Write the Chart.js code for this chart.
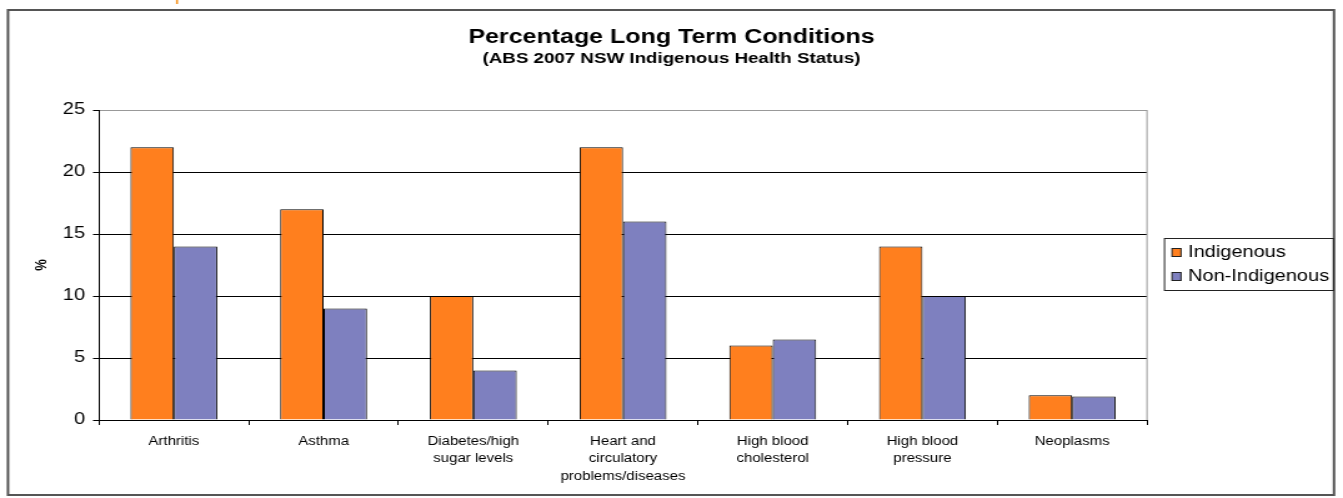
<!DOCTYPE html>
<html>
<head>
<meta charset="utf-8">
<script src="https://cdn.jsdelivr.net/npm/chart.js@4/dist/chart.umd.min.js"></script>
<style>
  html, body { margin: 0; padding: 0; background: #fff; overflow: hidden; }
  /* the original picture is stretched sideways, so draw narrower and stretch */
  #wrap { position: absolute; left: 0; top: 0; width: 1075px; height: 498px;
          transform: scale(1.2493, 1); transform-origin: 0 0; }
</style>
</head>
<body>
<div id="wrap"><canvas id="myChart" width="1075" height="498"></canvas></div>
<script>
var categories = [
    'Arthritis',
    'Asthma',
    ['Diabetes/high', 'sugar levels'],
    ['Heart and', 'circulatory', 'problems/diseases'],
    ['High blood', 'cholesterol'],
    ['High blood', 'pressure'],
    'Neoplasms'
];
var indigenous = [22, 17, 10, 22, 6, 14, 2];
var nonIndigenous = [14, 9, 4, 16, 6.5, 10, 1.9];
var seriesNames = ['Indigenous', 'Non-Indigenous'];
var yTicks = [0, 5, 10, 15, 20, 25];

var FONT = 'Arial, "Liberation Sans", Helvetica, sans-serif';
var S = 1343 / 1075; // horizontal stretch
function px(x) { return x / S; }

// outer frame, plot right border and boxed legend
var framePlugin = {
    id: 'frame',
    beforeDraw: function (chart) {
        var c = chart.ctx;
        c.save();
        c.fillStyle = '#fff';
        c.fillRect(0, 0, chart.width, chart.height);
        c.strokeStyle = '#555';
        c.lineWidth = 2;
        c.strokeRect(px(8), 10, px(1326), 485);
        c.fillStyle = '#F7931E';
        c.fillRect(px(176), 0, px(2), 4);
        c.restore();
    },
    beforeDatasetsDraw: function (chart) {
        var a = chart.chartArea;
        var c = chart.ctx;
        c.save();
        c.strokeStyle = '#999';
        c.lineWidth = 1;
        c.beginPath();
        c.moveTo(a.right, a.top);
        c.lineTo(a.right, a.bottom);
        c.stroke();
        c.restore();
    },
    afterDraw: function (chart) {
        var c = chart.ctx;
        c.save();
        c.strokeStyle = '#222';
        c.lineWidth = 1;
        c.strokeRect(px(1164.5), 238.5, px(169), 52);
        c.font = '16px ' + FONT;
        c.textBaseline = 'middle';
        chart.data.datasets.forEach(function (ds, i) {
            var y = 252 + i * 24;
            c.fillStyle = ds.backgroundColor;
            c.fillRect(px(1172), y - 4, px(9), 9);
            c.strokeStyle = '#222';
            c.strokeRect(px(1172), y - 3.5, px(9), 8);
            c.fillStyle = '#000';
            c.fillText(ds.label, px(1188), y + 1);
        });
        c.restore();
    }
};

var ctx = document.getElementById('myChart').getContext('2d');
var myChart = new Chart(ctx, {
    type: 'bar',
    data: {
        labels: categories,
        datasets: [{
            label: seriesNames[0],
            data: indigenous,
            backgroundColor: '#FF7F1E',
            borderColor: '#000',
            borderWidth: 1,
            categoryPercentage: 0.58,
            barPercentage: 1
        }, {
            label: seriesNames[1],
            data: nonIndigenous,
            backgroundColor: '#7E80BF',
            borderColor: '#000',
            borderWidth: 1,
            categoryPercentage: 0.58,
            barPercentage: 1
        }]
    },
    options: {
        responsive: false,
        animation: false,
        layout: { padding: 0 },
        plugins: {
            legend: { display: false },
            tooltip: { enabled: false },
            title: {
                display: true,
                text: 'Percentage Long Term Conditions',
                color: '#000',
                font: { family: FONT, size: 20, weight: 'bold' },
                padding: { top: 25, bottom: 1 }
            },
            subtitle: {
                display: true,
                text: '(ABS 2007 NSW Indigenous Health Status)',
                color: '#000',
                font: { family: FONT, size: 15, weight: 'bold' },
                padding: { top: 0, bottom: 42 }
            }
        },
        scales: {
            x: {
                grid: {
                    drawOnChartArea: false,
                    drawTicks: true,
                    tickLength: 5,
                    color: '#000'
                },
                border: { color: '#000', width: 1 },
                ticks: {
                    color: '#000',
                    font: { family: FONT, size: 12, lineHeight: 1.45 },
                    padding: 8,
                    maxRotation: 0,
                    autoSkip: false
                },
                afterFit: function (scale) { scale.height = 78; }
            },
            y: {
                min: 0,
                max: 25,
                afterBuildTicks: function (scale) {
                    scale.ticks = yTicks.map(function (v) { return { value: v }; });
                },
                grid: {
                    color: function (c) { return c.tick && c.tick.value === 25 ? '#999' : '#000'; },
                    tickLength: px(6),
                    tickColor: '#000'
                },
                border: { color: '#000', width: 1 },
                ticks: {
                    color: '#000',
                    font: { family: FONT, size: 16 },
                    padding: px(8)
                },
                title: {
                    display: true,
                    text: '%',
                    color: '#000',
                    font: { family: FONT, size: 13, weight: 'bold' },
                    padding: { top: px(42) - 7.8, bottom: 0 }
                },
                afterFit: function (scale) { scale.width = px(99); }
            },
            // empty box on the right keeps room for the legend
            yRight: {
                position: 'right',
                display: true,
                grid: { display: false },
                border: { display: false },
                ticks: { display: false },
                afterFit: function (scale) { scale.width = 1075 - px(1147); }
            }
        }
    },
    plugins: [framePlugin]
});
</script>
</body>
</html>
